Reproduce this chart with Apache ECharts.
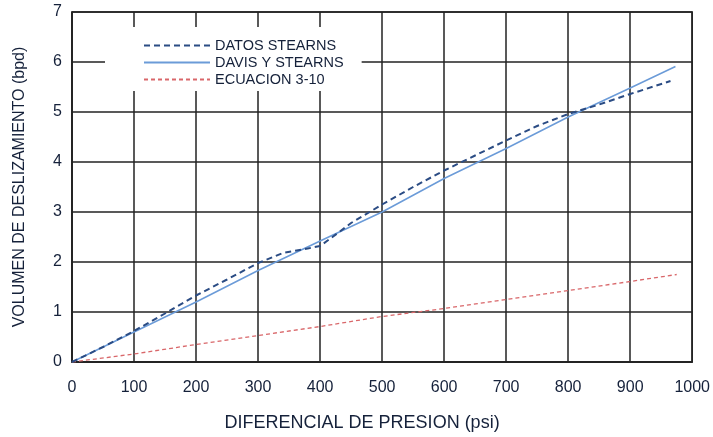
<!DOCTYPE html>
<html><head><meta charset="utf-8">
<script src="https://cdn.jsdelivr.net/npm/echarts@6/dist/echarts.min.js"></script>
<style>html,body{margin:0;padding:0;background:#fff}#c{width:713px;height:437px}</style>
</head><body><div id="c"></div>
<script>
const xTicks = [0,100,200,300,400,500,600,700,800,900,1000];
const yTicks = [0,1,2,3,4,5,6,7];
const datosX = [0,50,100,150,200,250,300,340,380,400,420,450,480,500,550,600,650,700,750,800,850,900,965];
const datosY = [0,0.3,0.62,0.97,1.33,1.65,1.98,2.18,2.27,2.32,2.5,2.78,3.0,3.15,3.5,3.83,4.13,4.43,4.72,4.96,5.15,5.36,5.62];
const davisX = [0,100,200,300,400,500,600,700,800,900,973];
const davisY = [0,0.6,1.2,1.83,2.42,3.0,3.67,4.27,4.9,5.48,5.91];
const ecuX = [0,100,200,300,400,500,600,700,800,900,975];
const ecuY = [0,0.16,0.35,0.53,0.71,0.91,1.07,1.25,1.43,1.61,1.75];
const names = ['DATOS STEARNS','DAVIS Y STEARNS','ECUACION 3-10'];
const zip = (a,b)=>a.map((v,i)=>[v,b[i]]);
const txt = '#15213a';
const font = 'Liberation Sans, Arial, sans-serif';
const chart = echarts.init(document.getElementById('c'));
chart.setOption({
  animation:false,
  grid:{left:72,right:12,top:12,bottom:72,show:true,borderColor:'#222',borderWidth:1.5},
  legend:{
    data:names, orient:'vertical', left:105, top:27, width:255,
    backgroundColor:'#fff', padding:[11,18,4,38], itemGap:2,
    itemWidth:66, itemHeight:12,
    itemStyle:{opacity:0},
    textStyle:{color:txt,fontSize:14.5,fontFamily:font}
  },
  xAxis:{type:'value',min:0,max:1000,interval:100,
    name:'DIFERENCIAL DE PRESION (psi)',nameLocation:'middle',nameGap:52,
    nameTextStyle:{color:txt,fontSize:18,fontFamily:font,padding:[0,40,0,0]},
    axisLine:{lineStyle:{color:'#222',width:1.5}},axisTick:{show:false},
    axisLabel:{color:txt,fontSize:16,fontFamily:font,margin:18,formatter:v=>String(v)},
    splitLine:{show:true,lineStyle:{color:'#222',width:1.5}}},
  yAxis:{type:'value',min:0,max:7,interval:1,
    name:'VOLUMEN DE DESLIZAMIENTO (bpd)',nameLocation:'middle',nameGap:44,
    nameTextStyle:{color:txt,fontSize:16,fontFamily:font},
    axisLine:{lineStyle:{color:'#222',width:1.5}},axisTick:{show:false},
    axisLabel:{color:txt,fontSize:16,fontFamily:font,margin:10},
    splitLine:{show:true,lineStyle:{color:'#222',width:1.5}}},
  series:[
    {name:names[0],type:'line',symbol:'none',data:zip(datosX,datosY),
     lineStyle:{color:'#2b4c84',width:2,type:[6,4]},itemStyle:{color:'#2b4c84'},z:4},
    {name:names[1],type:'line',symbol:'none',data:zip(davisX,davisY),
     lineStyle:{color:'#6b9bd8',width:1.5},itemStyle:{color:'#6b9bd8'},z:3},
    {name:names[2],type:'line',symbol:'none',data:zip(ecuX,ecuY),
     lineStyle:{color:'#d9676a',width:1.3,type:[4,3]},itemStyle:{color:'#d9676a'},z:3}
  ]
});
</script></body></html>
